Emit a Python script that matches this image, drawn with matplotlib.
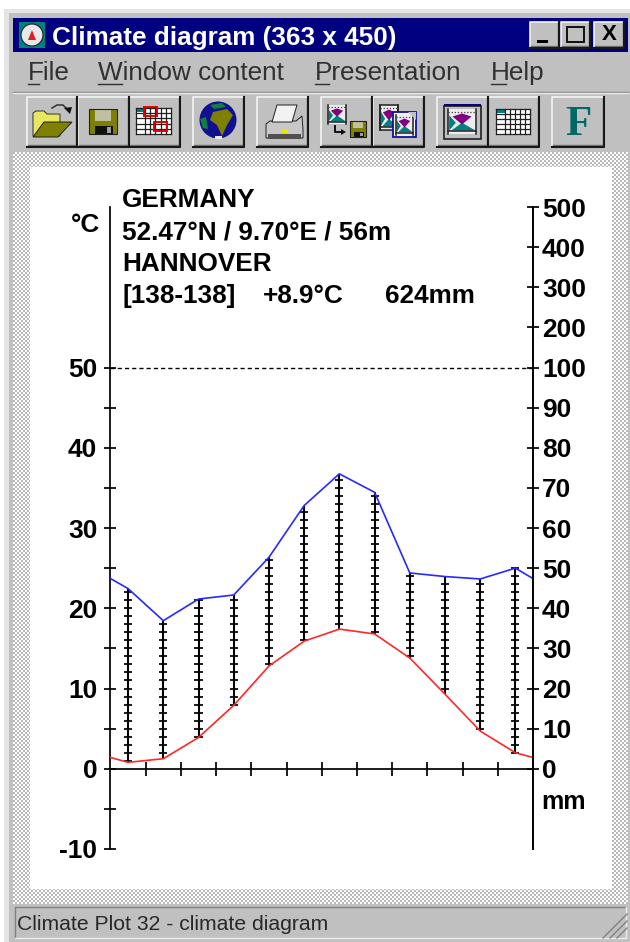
import matplotlib
matplotlib.use('Agg')
import matplotlib.pyplot as plt
from matplotlib.patches import Rectangle, Polygon, Circle
import numpy as np

plt.rcParams['font.family'] = ['Liberation Sans', 'DejaVu Sans']

# monthly values
month_pos = [0.5, 1.5, 2.5, 3.5, 4.5, 5.5, 6.5, 7.5, 8.5, 9.5, 10.5, 11.5]
temp = [0.8, 1.25, 3.9, 7.9, 12.8, 15.9, 17.4, 16.8, 13.8, 9.3, 4.7, 2.0]
precip = [44.9, 36.9, 42.3, 43.3, 52.7, 65.6, 73.5, 68.9, 48.8, 47.9, 47.3, 50.0]
temp_edge = 1.4
precip_edge = 47.4

left_ticks = [-10, -5, 0, 5, 10, 15, 20, 25, 30, 35, 40, 45, 50]
left_labels = ['-10', '', '0', '', '10', '', '20', '', '30', '', '40', '', '50']
right_ticks = [0, 10, 20, 30, 40, 50, 60, 70, 80, 90, 100, 200, 300, 400, 500]

header = ['GERMANY', '52.47°N / 9.70°E / 56m', 'HANNOVER']
menu_items = ['File', 'Window content', 'Presentation', 'Help']


def mm_to_axis(mm):
    # 0-100 mm runs at 2 mm per degree, above 100 mm the scale is compressed
    mm = np.asarray(mm, dtype=float)
    return np.where(mm <= 100, mm / 2, 50 + (mm - 100) / 20)


fig = plt.figure(figsize=(6.30, 9.42), dpi=100, facecolor='white')

# window in pixel coordinates
win = fig.add_axes([0, 0, 1, 1])
win.axis('off')


def box(x0, y0, x1, y1, color, z=1):
    win.add_patch(Rectangle((x0, y0), x1 - x0, y1 - y0, fc=color, ec='none', zorder=z))


def button(x0, y0, x1, y1, z=2):
    box(x0, y0, x1, y1, '#c0c0c0', z)
    win.plot([x0, x0, x1], [y1, y0, y0], color='#f4f4f4', lw=1.2, zorder=z + 0.1)
    win.plot([x0 + 1, x1 - 1, x1 - 1], [y1 - 2, y1 - 2, y0 + 1], color='#707070', lw=1, zorder=z + 0.1)
    win.plot([x0, x1, x1], [y1, y1, y0], color='#181818', lw=1.5, zorder=z + 0.2)


def poly(points, color, z=4, edge='none'):
    win.add_patch(Polygon(points, closed=True, fc=color, ec=edge, lw=0.7, zorder=z))


def grid_icon(x0, y0, x1, y1):
    box(x0, y0, x1, y1, 'white', 4)
    box(x0, y0, x0 + (x1 - x0) / 4, y0 + 4, '#008080', 4.1)
    for gx in [x0] + list(np.linspace(x0 + (x1 - x0) / 4, x1, 6)):
        win.plot([gx, gx], [y0, y1], color='#202020', lw=0.9, zorder=4.2)
    for gy in np.linspace(y0, y1, 6):
        win.plot([x0, x1], [gy, gy], color='#202020', lw=0.9, zorder=4.2)


def floppy_icon(x0, y0, x1, y1):
    w = x1 - x0
    h = y1 - y0
    box(x0, y0, x1, y1, '#808000', 4)
    box(x0 + 0.2 * w, y0, x1 - 0.2 * w, y0 + 0.46 * h, '#c0c0a0', 4.1)
    box(x0 + 0.22 * w, y1 - 0.34 * h, x1 - 0.15 * w, y1, '#101010', 4.1)
    box(x1 - 0.36 * w, y1 - 0.28 * h, x1 - 0.2 * w, y1 - 0.04 * h, '#a0a0a0', 4.2)
    win.add_patch(Rectangle((x0, y0), w, h, fc='none', ec='#202020', lw=0.8, zorder=4.3))


def chart_icon(x0, y0, x1, y1, z=4):
    w = x1 - x0
    h = y1 - y0
    box(x0, y0, x1, y1, '#ededed', z)
    poly([(x0 + 0.12 * w, y0 + 0.86 * h), (x0 + 0.5 * w, y0 + 0.55 * h), (x1 - 0.02 * w, y0 + 0.86 * h)], '#008080', z + 0.1)
    poly([(x0 + 0.16 * w, y0 + 0.3 * h), (x0 + 0.5 * w, y0 + 0.18 * h), (x1 - 0.16 * w, y0 + 0.3 * h),
          (x0 + 0.5 * w, y0 + 0.62 * h)], '#800080', z + 0.2)
    poly([(x0 + 0.04 * w, y0 + 0.25 * h), (x0 + 0.28 * w, y0 + 0.55 * h), (x0 + 0.04 * w, y0 + 0.86 * h)], '#008080', z + 0.1)
    win.plot([x0, x0], [y0, y1], color='#202020', lw=1.1, zorder=z + 0.3)
    win.plot([x1, x1], [y0, y1], color='#202020', lw=1.1, zorder=z + 0.3)
    win.plot([x0, x1], [y0 + 0.88 * h, y0 + 0.88 * h], color='#202020', lw=1.1, zorder=z + 0.3)
    win.plot([x0, x1], [y0 + 0.12 * h, y0 + 0.12 * h], color='#404040', lw=0.9, ls=(0, (1, 1.5)), zorder=z + 0.3)


box(4, 9, 630, 942, '#e4e4e4', 0)
box(9, 13, 630, 942, '#c0c0c0', 0.5)

# title bar
box(13, 18, 628, 52, '#000080')
box(19, 22, 45, 48, '#008080', 2)
win.add_patch(Circle((32, 35), 11, fc='#e8e8e8', ec='#202020', lw=0.8, zorder=3))
poly([(28, 40), (32, 30), (36, 40)], '#e02020', 4)
win.text(52, 45, 'Climate diagram (363 x 450)', color='white', fontsize=18.8, fontweight='bold', zorder=3)
for bx0, bx1 in [(530, 559), (561, 590), (594, 624)]:
    button(bx0, 22, bx1, 48)
box(537, 40, 548, 43, 'black', 3)
win.add_patch(Rectangle((567, 27), 17, 15, fc='none', ec='#101010', lw=1.4, zorder=3))
win.text(609, 35, 'X', fontsize=16, fontweight='bold', ha='center', va='center', zorder=3)

# menu
menu_x = [28, 98, 315, 491]
under_w = [11, 24, 14, 15]
for item, mx, uw in zip(menu_items, menu_x, under_w):
    win.text(mx, 80, item, color='#303030', fontsize=18.8, zorder=3)
    win.plot([mx, mx + uw], [84, 84], color='#303030', lw=1, zorder=3)
win.plot([13, 628], [91.5, 91.5], color='#808080', lw=1, zorder=2)
win.plot([13, 628], [93, 93], color='#ececec', lw=1, zorder=2)

# toolbar
buttons = [(27, 77), (77.5, 128.5), (129, 180), (193, 244), (257, 308),
           (321, 372), (373, 424), (437, 488), (488, 539), (552, 604)]
for bx0, bx1 in buttons:
    button(bx0, 97, bx1, 147)

# open
poly([(33, 136), (33, 113), (36, 111), (44, 111), (47, 114), (60, 114), (60, 136)], '#e8e860', 4, '#303030')
poly([(33, 137), (44, 122), (72, 122), (58, 137)], '#808000', 4.1, '#202020')
win.plot([52, 57, 63, 68], [108, 105, 105, 110], color='#303030', lw=1.1, zorder=4)
poly([(64, 108), (72, 107), (70, 114)], '#101010', 4.2)
# save
floppy_icon(89, 109, 117, 134)
# table with marks
grid_icon(136, 108, 171, 134)
win.add_patch(Rectangle((144, 107), 13, 9, fc='none', ec='#e00000', lw=1.4, zorder=5))
win.add_patch(Rectangle((154, 122), 13, 9, fc='none', ec='#e00000', lw=1.4, zorder=5))
# globe
win.add_patch(Circle((218, 120), 18.5, fc='#101090', ec='none', zorder=4))
poly([(213, 112), (227, 109), (233, 115), (227, 125), (222, 136), (217, 125), (210, 120)], '#808000', 4.1)
poly([(200, 119), (206, 117), (208, 129), (203, 128)], '#108040', 4.1)
poly([(210, 105), (222, 103), (226, 107), (214, 109)], '#108040', 4.1)
poly([(215, 136), (222, 136), (222, 139), (215, 139)], '#e8e8f0', 4.1)
# printer
poly([(277, 105), (297, 105), (292, 122), (272, 122)], '#f2f2f2', 4, '#202020')
poly([(266, 124), (270, 121), (296, 121), (302, 116), (303, 130), (303, 138), (266, 138)], '#c8c8c8', 3.9, '#202020')
box(282, 129, 288, 133, '#e8e800', 5)
box(268, 134, 301, 139, '#505050', 5)
# save picture
chart_icon(328, 105, 346, 124)
win.plot([335, 335, 341], [126, 132, 132], color='#101010', lw=1.4, zorder=4)
poly([(341, 129), (346, 132), (341, 135)], '#101010', 4)
floppy_icon(350, 121, 366, 137)
# copy picture
chart_icon(380, 105, 398, 130)
win.add_patch(Rectangle((380, 105), 18, 25, fc='none', ec='#202020', lw=1.1, zorder=4.5))
box(393, 112, 416, 137, '#f4f4f4', 4.6)
chart_icon(396, 115, 413, 135, z=4.7)
win.add_patch(Rectangle((393, 112), 23, 25, fc='none', ec='#1010a0', lw=1.3, zorder=5.5))
poly([(408, 112), (416, 112), (416, 120)], '#c0c0c0', 5.6)
# window content buttons
box(444, 106, 481, 139, '#c0c0c0', 3)
chart_icon(448, 109, 476, 134)
win.add_patch(Rectangle((444, 106), 37, 33, fc='none', ec='#202020', lw=1.2, zorder=4.5))
box(444, 103.5, 481, 106, '#000080', 4.6)
grid_icon(496, 109, 530, 134)
win.text(578, 135, 'F', color='#006868', fontsize=31, fontweight='bold', family=['Liberation Serif'],
         ha='center', zorder=4)

# stippled client area, white sheet and status bar
checker = np.indices((376, 308)).sum(axis=0) % 2
win.imshow(checker, cmap='gray', vmin=-2.6, vmax=1.0, extent=(13, 628, 904, 152), interpolation='nearest',
           aspect='auto', zorder=1)
box(30, 167, 612, 889, 'white', 1.5)
win.plot([15, 15, 626], [938, 907, 907], color='#808080', lw=1, zorder=2)
win.plot([15, 626, 626], [938, 938, 907], color='#ececec', lw=1, zorder=2)
win.text(17, 930, 'Climate Plot 32 - climate diagram', color='#282828', fontsize=15.2, zorder=3)
for d in [0, 7, 14]:
    win.plot([627 - d - 10, 627], [938, 938 - d - 10], color='#808080', lw=1, zorder=3)

# header text of the diagram
for text, ty in zip(header, [207, 239, 271]):
    win.text(122, ty, text, fontsize=18.8, fontweight='bold', zorder=3)
win.text(122, 303, '[138-138]', fontsize=18.8, fontweight='bold', zorder=3)
win.text(263, 303, '+8.9°C', fontsize=18.8, fontweight='bold', zorder=3)
win.text(385, 303, '624mm', fontsize=18.8, fontweight='bold', zorder=3)
win.text(71, 232, '°C', fontsize=18.8, fontweight='bold', zorder=3)
win.text(541, 809, 'mm', fontsize=18, fontweight='bold', zorder=3)

win.set_xlim(0, 630)
win.set_ylim(942, 0)

# diagram axes, left edge 110.5 px, right 533 px, top 207 px, bottom 849 px
ax = fig.add_axes([110.5 / 630, 1 - 849 / 942, (533 - 110.5) / 630, (849 - 207) / 942])
ax.patch.set_alpha(0)
ax.set_xlim(0, 12)
ax.set_ylim(-10, 70)
ax.spines['top'].set_visible(False)
ax.spines['bottom'].set_position(('data', 0))
for side in ['left', 'right', 'bottom']:
    ax.spines[side].set_linewidth(1.25)

ax.set_xticks(range(1, 12))
ax.set_xticklabels([])
ax.tick_params(axis='x', direction='inout', length=10.5, width=1.25)
ax.set_yticks(left_ticks)
ax.set_yticklabels(left_labels, fontsize=19, fontweight='bold')
ax.tick_params(axis='y', direction='inout', length=9, width=1.25, pad=5)

ax2 = ax.twinx()
ax2.set_ylim(-10, 70)
ax2.patch.set_alpha(0)
ax2.spines['top'].set_visible(False)
ax2.spines['bottom'].set_visible(False)
ax2.spines['left'].set_visible(False)
ax2.spines['right'].set_linewidth(1.25)
ax2.set_yticks(mm_to_axis(right_ticks))
ax2.set_yticklabels([str(t) for t in right_ticks], fontsize=19, fontweight='bold')
ax2.tick_params(axis='y', direction='inout', length=9, width=1.25, pad=2)

ax.axhline(50, color='black', lw=1.0, ls=(0, (3, 2.2)))

# humid months: vertical line with a dash every degree between the two curves
for x, t, p in zip(month_pos, temp, precip):
    top = float(mm_to_axis(p))
    ax.vlines(x, t, top, color='black', lw=1.5)
    levels = np.arange(np.ceil(t), top + 0.01, 1)
    ax.hlines(levels, x - 0.115, x + 0.115, color='black', lw=1.25)

line_x = [0] + month_pos + [12]
ax.plot(line_x, [temp_edge] + temp + [temp_edge], color='#ff2828', lw=1.2, zorder=5)
ax.plot(line_x, mm_to_axis([precip_edge] + precip + [precip_edge]), color='#2828ff', lw=1.2, zorder=5)

fig.savefig('out.png', dpi=100)
